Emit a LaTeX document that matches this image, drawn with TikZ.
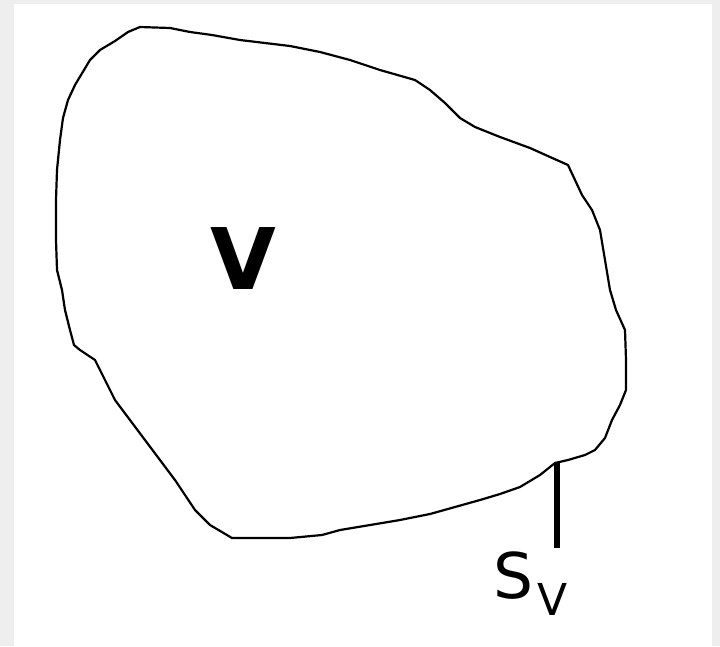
\documentclass[tikz,border=0pt]{standalone}
\usepackage{fontspec}
\setmainfont{DejaVu Sans}
\begin{document}
\begin{tikzpicture}[x=1pt,y=-1pt,
  outline/.style={draw=black,line width=2.2pt,line join=round},
  lbl/.style={inner sep=0pt,outer sep=0pt}]
\fill[fill={rgb,255:red,238;green,238;blue,238}] (0,0) rectangle (720,646);
\fill[white] (14,4) rectangle (712,646);
\useasboundingbox (0,0) rectangle (720,646);
\draw[outline] (140,27) -- (170,28) -- (190,32) -- (212,35) -- (240,40) -- (290,46) -- (320,52) -- (350,60) -- (380,70) -- (415,80) -- (430,90) -- (445,103) -- (460,118) -- (475,127) -- (500,137) -- (530,148) -- (550,157) -- (568,165) -- (575,180) -- (582,195) -- (592,210) -- (600,230) -- (605,260) -- (610,290) -- (616,310) -- (625,330) -- (626,360) -- (626,390) -- (620,405) -- (612,420) -- (605,438) -- (595,450) -- (585,455) -- (568,460) -- (555,463) -- (540,475) -- (520,487) -- (500,494) -- (480,500) -- (455,507) -- (430,514) -- (400,520) -- (370,525) -- (340,530) -- (322,535) -- (290,538) -- (260,538) -- (232,538) -- (210,525) -- (195,510) -- (185,495) -- (175,480) -- (160,460) -- (145,440) -- (130,420) -- (115,400) -- (105,380) -- (95,360) -- (80,350) -- (74,345) -- (70,330) -- (65,310) -- (62,290) -- (57,270) -- (56,240) -- (56,200) -- (57,170) -- (60,140) -- (63,118) -- (68,100) -- (75,85) -- (90,60) -- (100,50) -- (115,41) -- (128,32) -- cycle;
\node[lbl,font=\fontsize{85}{85}\selectfont\bfseries] (v) at (243,259) {V};
\coordinate (sv) at (557,462);
\coordinate (svend) at (557,548);
\draw[line width=6pt] (sv) -- (svend);
\node[lbl,font=\fontsize{63}{63}\selectfont,anchor=base west] (s) at (493,598) {S};
\node[lbl,font=\fontsize{44}{44}\selectfont,anchor=base west] (sub) at (s.base east) [xshift=5pt,yshift=-17pt] {V};
\end{tikzpicture}
\end{document}
